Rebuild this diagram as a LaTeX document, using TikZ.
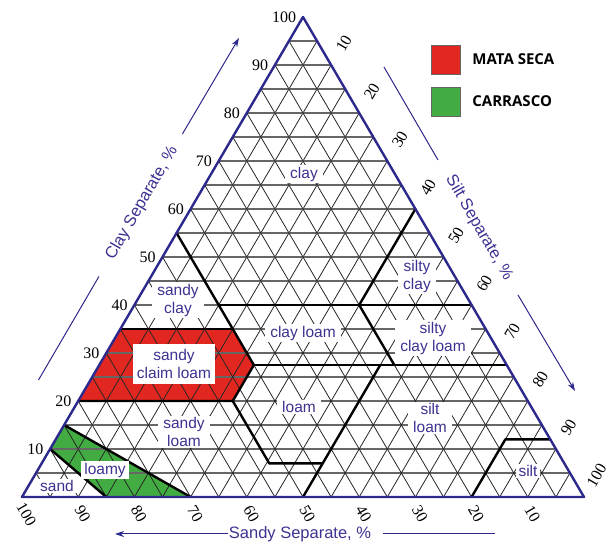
\documentclass[tikz,border=0pt]{standalone}
\usepackage{fontspec}
\setmainfont{Liberation Serif}
\setsansfont{Liberation Sans}
\newfontfamily\legendfont{Open Sans}
\usepackage{tikz}
\usetikzlibrary{calc,positioning,arrows.meta}
\definecolor{edgeblue}{RGB}{45,40,140}
\definecolor{textblue}{RGB}{60,50,145}
\definecolor{matared}{RGB}{226,38,32}
\definecolor{carragreen}{RGB}{66,172,66}
\tikzset{
  soil/.style={font=\sffamily\fontsize{15.5}{18}\selectfont, text=textblue, fill=white,
    inner xsep=5pt, inner ysep=1.5pt, align=center},
  axisnum/.style={font=\fontsize{16}{16}\selectfont, inner sep=1pt},
  axistitle/.style={font=\sffamily\fontsize{16.5}{18}\selectfont, text=textblue},
  axisline/.style={edgeblue, line width=1pt},
  gridh/.style={black!60, line width=1.1pt},
  gridd/.style={black!85, line width=0.8pt},
  border/.style={black, line width=2.4pt, line cap=round, line join=round},
  legendbox/.style={draw=black!60, line width=0.8pt, minimum size=29pt, inner sep=0pt},
  legendtext/.style={font=\legendfont\bfseries\fontsize{15}{15}\selectfont, anchor=west}
}

\begin{document}
\begin{tikzpicture}[x=1pt,y=1pt]
  \useasboundingbox (0,0) rectangle (606,544);
  % ternary frame: x = silt %, y = clay %
  \begin{scope}[shift={(22,47)}, x={(5.62pt,0pt)}, y={(2.81pt,4.8pt)}]
    \coordinate (A) at (0,0);
    \coordinate (B) at (100,0);
    \coordinate (C) at (0,100);
    \fill[matared] (0,20) -- (0,35) -- (20,35) -- (27.5,27.5) -- (27.5,20) -- cycle;
    \fill[carragreen] (0,10) -- (0,15) -- (30,0) -- (15,0) -- cycle;
    \foreach \p in {5,10,...,95}{
      \draw[gridh] (0,\p) -- (100-\p,\p);
      \draw[gridd] (\p,0) -- (\p,100-\p);
      \draw[gridd] (\p,0) -- (0,\p);
    }
    \draw[border] (0,55) -- (27.5,27.5);
    \draw[border] (0,35) -- (20,35);
    \draw[border] (15,40) -- (60,40);
    \draw[border] (40,60) -- (40,40) -- (52.5,27.5);
    \draw[border] (27.5,27.5) -- (72.5,27.5);
    \draw[border] (27.5,27.5) -- (27.5,20);
    \draw[border] (0,20) -- (27.5,20) -- (40.5,7) -- (50,7);
    \draw[border] (50,27.5) -- (50,0);
    \draw[border] (80,0) -- (80,12) -- (88,12);
    \draw[border] (0,10) -- (15,0);
    \draw[border] (0,15) -- (30,0);
    \draw[edgeblue, line width=2.4pt, line join=round] (A) -- (B) -- (C) -- cycle;
    \foreach \c in {10,20,...,100}
      \node[axisnum, anchor=east] (cl\c) at (-1,\c) {\c};
    \foreach \s in {10,20,...,100}
      \node[axisnum, rotate=60] (si\s) at (\s,104.5-\s) {\s};
    \foreach \d in {10,20,...,100}
      \node[axisnum, rotate=-60] (sa\d) at (102.6-\d,-3.6) {\d};
  \end{scope}

  \node[soil] (clay) at (304,370) {clay};
  \node[soil] (siltyclay) at (417,268) {silty\\clay};
  \node[soil] (sandyclay) at (178,244) {sandy\\clay};
  \node[soil] (clayloam) at (303,211) {clay loam};
  \node[soil] (siltyclayloam) at (433,206) {silty\\clay loam};
  \node[soil, inner xsep=4pt, inner ysep=5pt] (sandyclaim) at (174,180) {sandy\\claim loam};
  \node[soil] (loam) at (299,137) {loam};
  \node[soil] (sandyloam) at (184,112) {sandy\\loam};
  \node[soil] (siltloam) at (430,126) {silt\\loam};
  \node[soil, inner xsep=3pt] (loamy) at (105,74) {loamy};
  \node[soil, inner xsep=3pt] (sand) at (57,58) {sand};
  \node[soil, inner xsep=3pt] (silt) at (528,73) {silt};

  \node[axistitle, rotate=60] (claytitle) at (142,341) {Clay Separate, \%};
  \coordinate (clayA) at (38.5,164);
  \coordinate (clayB) at (99,267.6);
  \coordinate (clayC) at (182.4,410);
  \coordinate (clayD) at (239,506);
  \draw[axisline] (clayA) -- (clayB);
  \draw[axisline, -{Stealth[length=9pt,width=6pt]}] (clayC) -- (clayD);

  \node[axistitle, rotate=-60] (silttitle) at (479,316) {Silt Separate, \%};
  \coordinate (siltA) at (384,477);
  \coordinate (siltB) at (438,384);
  \coordinate (siltC) at (518,249);
  \coordinate (siltD) at (575,153);
  \draw[axisline] (siltA) -- (siltB);
  \draw[axisline, -{Stealth[length=9pt,width=6pt]}] (siltC) -- (siltD);

  \node[axistitle] (sandtitle) at (300,10) {Sandy Separate, \%};
  \coordinate (sandA) at (228,10);
  \coordinate (sandB) at (115,10);
  \coordinate (sandC) at (383,10);
  \coordinate (sandD) at (495,10);
  \draw[axisline, -{Stealth[length=9pt,width=6pt]}] (sandA) -- (sandB);
  \draw[axisline] (sandC) -- (sandD);

  \node[legendbox, fill=matared] (redbox) at (446,484.5) {};
  \node[legendbox, fill=carragreen] (greenbox) at (446,442.5) {};
  \node[legendtext, right=8pt of redbox] (matatext) {MATA SECA};
  \node[legendtext, right=8pt of greenbox] (carratext) {CARRASCO};
\end{tikzpicture}
\end{document}
